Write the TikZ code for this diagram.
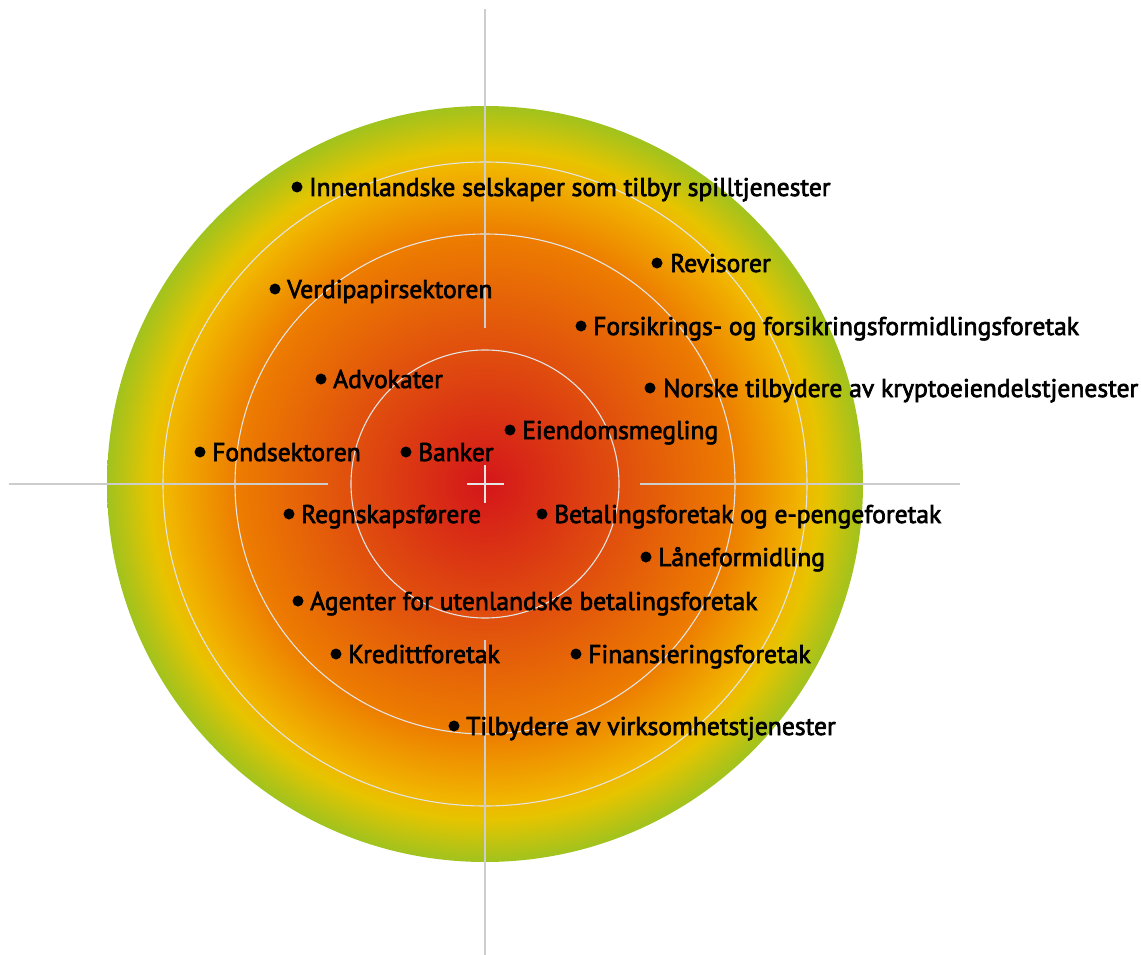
\documentclass[tikz,border=0pt]{standalone}
\usepackage{fontspec}
\setmainfont{PT Sans}[FakeBold=2.6]
\usetikzlibrary{calc}

% radial colour scale of the target, from the red core to the green rim
\definecolor{core}{RGB}{212,22,26}
\definecolor{ringA}{RGB}{224,78,14}
\definecolor{ringB}{RGB}{237,125,0}
\definecolor{ringC}{RGB}{241,182,0}
\definecolor{ringD}{RGB}{230,196,0}
\definecolor{rim}{RGB}{160,195,30}
\definecolor{gridline}{RGB}{205,205,205}
\definecolor{ringline}{RGB}{228,228,228}

\pgfdeclareradialshading{target}{\pgfpoint{0bp}{0bp}}{%
  color(0bp)=(core);
  color(8.8bp)=(ringA);
  color(16.5bp)=(ringB);
  color(21.0bp)=(ringC);
  color(22.2bp)=(ringD);
  color(25bp)=(rim);
  color(50bp)=(rim)}

\tikzset{
  bullet/.style={circle, fill=black, inner sep=0pt, minimum size=11pt},
  lbl/.style={anchor=base west, inner sep=0pt, font=\fontsize{25.6}{28}\selectfont},
  ring/.style={draw=ringline, line width=1.1pt},
  axis/.style={draw=gridline, line width=1.3pt},
  centremark/.style={draw=ringline, line width=1.3pt}
}

% bullet at (#2,#3), text starting at #4 on the same line
\newcommand{\entry}[5]{%
  \node[bullet] (#1b) at (#2,#3) {};
  \node[lbl] (#1) at (#4,#3+9) {#5};
}

\begin{document}
\begin{tikzpicture}[x=1pt,y=-1pt]
\useasboundingbox (0,0) rectangle (1141,955);

\coordinate (c) at (485,484);

% graded disc and its rings
\shade[shading=target] (c) circle[radius=378];
\foreach \r in {322,250,134} \draw[ring] (c) circle[radius=\r];

% cross hairs
\coordinate (vt1) at (485,9);   \coordinate (vt2) at (485,328);
\coordinate (vb1) at (485,640); \coordinate (vb2) at (485,955);
\coordinate (hl1) at (9,484);   \coordinate (hl2) at (328,484);
\coordinate (hr1) at (640,484); \coordinate (hr2) at (960,484);
\draw[axis] (vt1) -- (vt2);
\draw[axis] (vb1) -- (vb2);
\draw[axis] (hl1) -- (hl2);
\draw[axis] (hr1) -- (hr2);

% small cross at the centre
\coordinate (cl) at (467,484); \coordinate (cr) at (504,484);
\coordinate (ct) at (485,465); \coordinate (cb) at (485,503);
\draw[centremark] (cl) -- (cr);
\draw[centremark] (ct) -- (cb);

% entries
\entry{spill}{297}{187}{309}{Innenlandske selskaper som tilbyr spilltjenester}
\entry{rev}{657}{263}{670}{Revisorer}
\entry{verdi}{275}{289}{287}{Verdipapirsektoren}
\entry{fors}{581}{326}{593}{Forsikrings- og forsikringsformidlingsforetak}
\entry{adv}{321}{379}{333}{Advokater}
\entry{krypto}{650}{388}{663}{Norske tilbydere av kryptoeiendelstjenester}
\entry{eiend}{510}{430}{522}{Eiendomsmegling}
\entry{fond}{200}{452}{212}{Fondsektoren}
\entry{bank}{406}{452}{418}{Banker}
\entry{regn}{289}{514}{301}{Regnskapsførere}
\entry{betal}{542}{514}{554}{Betalingsforetak og e-pengeforetak}
\entry{laan}{646}{557}{658}{Låneformidling}
\entry{agent}{298}{601}{310}{Agenter for utenlandske betalingsforetak}
\entry{kred}{336}{654}{348}{Kredittforetak}
\entry{fin}{576}{654}{588}{Finansieringsforetak}
\entry{virk}{454}{726}{466}{Tilbydere av virksomhetstjenester}
\end{tikzpicture}
\end{document}
